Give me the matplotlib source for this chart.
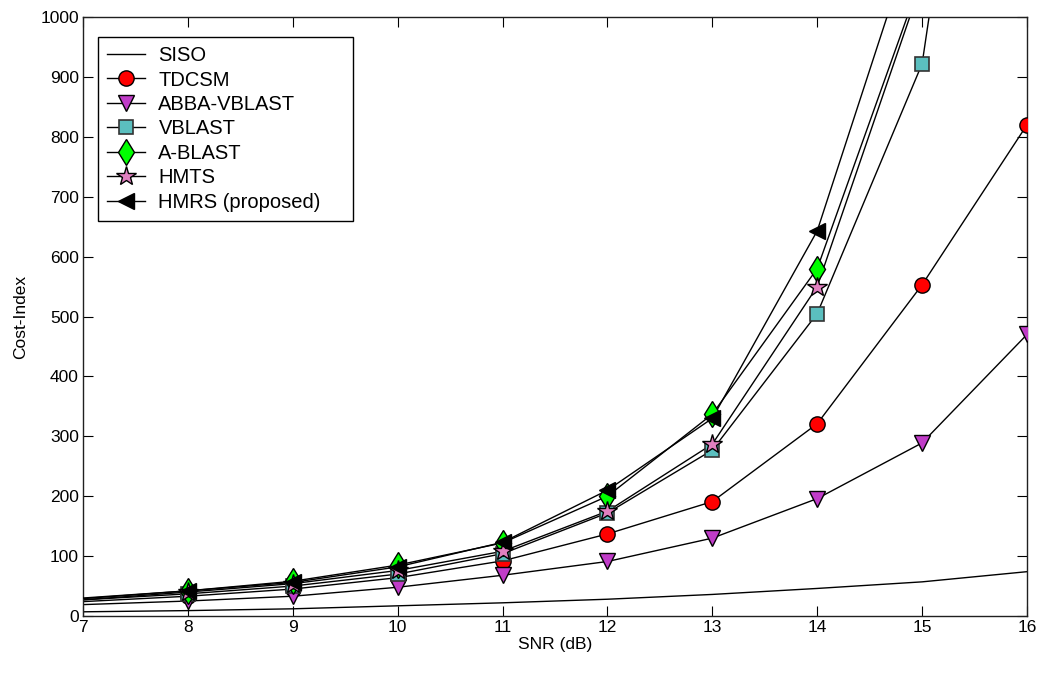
import matplotlib
matplotlib.use("Agg")
import matplotlib.pyplot as plt
from matplotlib.lines import Line2D

plt.rcParams['font.family'] = ['Liberation Sans', 'DejaVu Sans']

snr = [7, 8, 9, 10, 11, 12, 13, 14, 15, 16]
siso = [7, 9, 12, 17, 22, 28, 36, 46, 57, 74]
tdcsm = [24, 33, 45, 64, 92, 137, 191, 321, 553, 820]
abba_vblast = [19, 25, 33, 48, 68, 91, 130, 196, 289, 470]
vblast = [27, 37, 50, 70, 104, 172, 277, 505, 922, 2100]
a_blast = [29, 42, 58, 85, 122, 200, 337, 580, 1070, 2000]
hmts = [27, 40, 54, 76, 108, 175, 287, 550, 1060, 2000]
hmrs = [30, 42, 56, 82, 123, 210, 330, 643, 1180, 2200]

labels = ['SISO', 'TDCSM', 'ABBA-VBLAST', 'VBLAST', 'A-BLAST', 'HMTS', 'HMRS (proposed)']
xticks = list(range(7, 17))
yticks = list(range(0, 1001, 100))

styles = [
    dict(marker='None'),
    dict(marker='o', ms=11, mfc='#ff0000', mec='black', mew=1),
    dict(marker='v', ms=12, mfc='#c03cc8', mec='black', mew=1),
    dict(marker='s', ms=10, mfc='#5bbfbf', mec='#333333', mew=1.2),
    dict(marker='d', ms=13, mfc='#00ff00', mec='black', mew=1),
    dict(marker='*', ms=15, mfc='#e080c0', mec='black', mew=1),
    dict(marker='<', ms=12, mfc='black', mec='black', mew=1),
]
series = [siso, tdcsm, abba_vblast, vblast, a_blast, hmts, hmrs]

fig = plt.figure(figsize=(10.4, 6.73), dpi=100)
ax = fig.add_axes([0.0798, 0.0847, 0.9077, 0.8900])

lw = 1.0
handles = []
for i, (vals, st, lab) in enumerate(zip(series, styles, labels)):
    ax.plot(snr, vals, color='black', lw=lw, zorder=2 + i * 0.1)
    if st['marker'] != 'None':
        ax.plot(snr[1:], vals[1:], ls='none', zorder=3 + i * 0.1, **st)
    handles.append(Line2D([], [], color='black', lw=lw, label=lab, **st))

ax.set_xlim(7, 16)
ax.set_ylim(0, 1000)
ax.set_xticks(xticks)
ax.set_yticks(yticks)
ax.tick_params(direction='in', length=7, width=0.8, top=True, right=True, labelsize=12.5, pad=3)
for s in ax.spines.values():
    s.set_linewidth(1.0)
    s.set_color('#202020')

ax.set_xlabel('SNR (dB)', fontsize=12.5, labelpad=1)
ax.set_ylabel('Cost-Index', fontsize=12.5, labelpad=9)

leg = ax.legend(handles=handles, loc='upper left', bbox_to_anchor=(0.0159, 0.9666, 0.270, 0.0),
                mode='expand', fontsize=14.5,
                frameon=True, fancybox=False, edgecolor='black', framealpha=1,
                handlelength=1.9, handletextpad=0.65, labelspacing=0.27, borderpad=0.45,
                borderaxespad=0)
leg.get_frame().set_linewidth(1.0)

fig.savefig('out.png', dpi=100)
